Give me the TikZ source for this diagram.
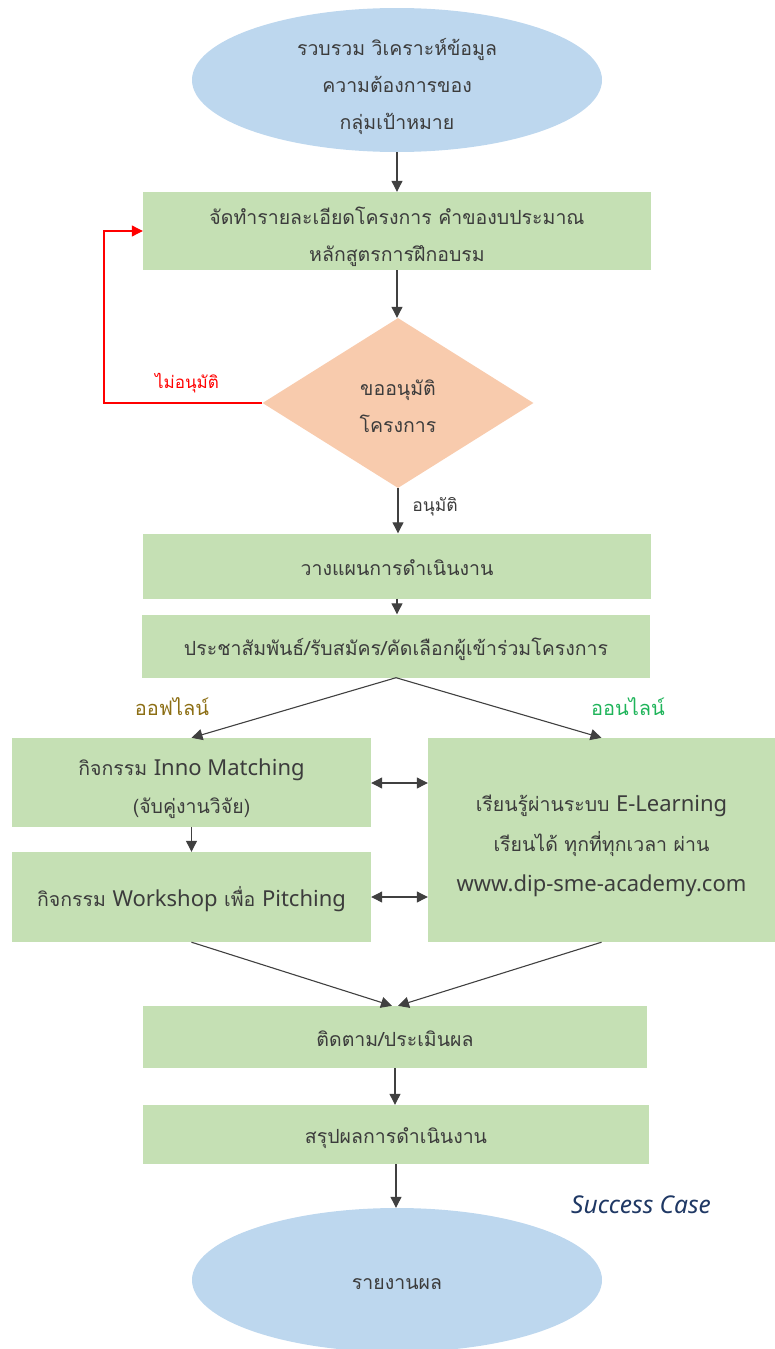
\documentclass[tikz,border=0pt]{standalone}
\usepackage{fontspec}
\setmainfont{Loma}[Script=Thai]
\newfontfamily\latfont{Noto Sans}
\newcommand\lt[1]{{\latfont\fontsize{22}{38}\selectfont #1}}
\newcommand\tA{\rule{0pt}{27pt}}
\newcommand\tB{\rule[-9pt]{0pt}{9pt}}
\newcommand\tS[1]{\rule{0pt}{#1pt}}
\usetikzlibrary{shapes.geometric,arrows.meta}
\definecolor{boxg}{HTML}{C5E0B4}
\definecolor{ellb}{HTML}{BDD7EE}
\definecolor{diao}{HTML}{F8CBAD}
\definecolor{txt}{HTML}{3C3C3C}
\definecolor{arrc}{HTML}{404040}
\definecolor{offc}{HTML}{8C6E14}
\definecolor{onc}{HTML}{1FB45A}
\definecolor{navy}{HTML}{1F3864}
\begin{document}
\begin{tikzpicture}[x=1pt,y=-1pt,
  base/.style={text=txt, align=center, inner sep=0pt, font=\fontsize{19.5}{37}\selectfont,
    execute at begin node=\tA, execute at end node=\tB},
  multi/.style={execute at begin node={}, execute at end node={}},
  proc/.style={base, rectangle, fill=boxg, draw=none},
  term/.style={base, ellipse, fill=ellb, draw=none, inner ysep=-8pt, minimum width=410pt, minimum height=144pt},
  dec/.style={base, diamond, fill=diao, draw=none, minimum width=271pt, minimum height=170pt},
  tip/.tip={Triangle[length=11pt,width=11pt]},
  arr/.style={draw=arrc, line width=1.1pt, -tip},
  darr/.style={draw=arrc, line width=1.1pt, tip-tip},
  lab/.style={inner sep=0pt, font=\fontsize{17}{20}\selectfont}
]
\useasboundingbox (0,0) rectangle (775,1349);

\node[term, multi] (e1) at (397,80) {\tS{33}รวบรวม วิเคราะห์ข้อมูล\\ความต้องการของ\\กลุ่มเป้าหมาย};
\node[proc, multi, minimum width=508pt, minimum height=76pt] (b1) at (397,231) {\tS{32}จัดทำรายละเอียดโครงการ คำของบประมาณ\\หลักสูตรการฝึกอบรม};
\node[dec, multi] (d) at (398,403) {\tS{31}ขออนุมัติ\\โครงการ};
\node[proc, minimum width=508pt, minimum height=65pt] (b2) at (397,566) {วางแผนการดำเนินงาน};
\node[proc, minimum width=508pt, minimum height=63pt] (b3) at (396,646) {ประชาสัมพันธ์/รับสมัคร/คัดเลือกผู้เข้าร่วมโครงการ};
\node[proc, multi, minimum width=359pt, minimum height=89pt, font=\fontsize{19.5}{38}\selectfont] (b4) at (191.5,782.5) {\tS{33}กิจกรรม \lt{Inno Matching}\\(จับคู่งานวิจัย)};
\node[proc, minimum width=359pt, minimum height=90pt] (b5) at (191.5,897) {กิจกรรม \lt{Workshop} เพื่อ \lt{Pitching}};
\node[proc, multi, minimum width=347pt, minimum height=204pt, font=\fontsize{19.5}{40}\selectfont] (b6) at (601.5,840) {\tS{31}เรียนรู้ผ่านระบบ \lt{E-Learning}\\เรียนได้ ทุกที่ทุกเวลา ผ่าน\\\lt{www.dip-sme-academy.com}};
\node[proc, minimum width=504pt, minimum height=62pt] (b7) at (395,1037) {ติดตาม/ประเมินผล};
\node[proc, minimum width=506pt, minimum height=59pt] (b8) at (396,1134.5) {สรุปผลการดำเนินงาน};
\node[term] (e2) at (397,1280) {รายงานผล};

\coordinate (rl) at (104,403);

\draw[arr] (e1.south) -- (b1.north);
\draw[arr] (b1.south) -- (b1.south |- d.north);
\draw[red, line width=1.1pt, -tip] (d.west) -- (rl) |- (b1.west);
\node[lab, text=red] (lno) at (187,383) {ไม่อนุมัติ};
\draw[arr] (d.south) -- (d.south |- b2.north);
\node[lab, text=txt, font=\fontsize{17.5}{20}\selectfont] (lyes) at (435,507) {อนุมัติ};
\draw[arr] (b2.south) -- (b2.south |- b3.north);
\draw[arr] (b3.south) -- (b4.north);
\draw[arr] (b3.south) -- (b6.north);
\node[lab, text=offc, font=\fontsize{20}{22}\selectfont] (loff) at (172,707) {ออฟไลน์};
\node[lab, text=onc, font=\fontsize{20}{22}\selectfont] (lon) at (628,707) {ออนไลน์};
\draw[arr] (b4.south) -- (b5.north);
\draw[darr] (b4.east |- 0,783) -- (b6.west |- 0,783);
\draw[darr] (b5.east) -- (b6.west |- b5.east);
\draw[arr] (b5.south) -- ([xshift=-3pt]b7.north);
\draw[arr] (b6.south) -- ([xshift=3pt]b7.north);
\draw[arr] (b7.south) -- (b7.south |- b8.north);
\draw[arr] (b8.south) -- (b8.south |- e2.north);
\node[lab, text=navy, font=\latfont\itshape\fontsize{24.5}{27}\selectfont] (sc) at (641,1205) {Success Case};
\end{tikzpicture}
\end{document}
